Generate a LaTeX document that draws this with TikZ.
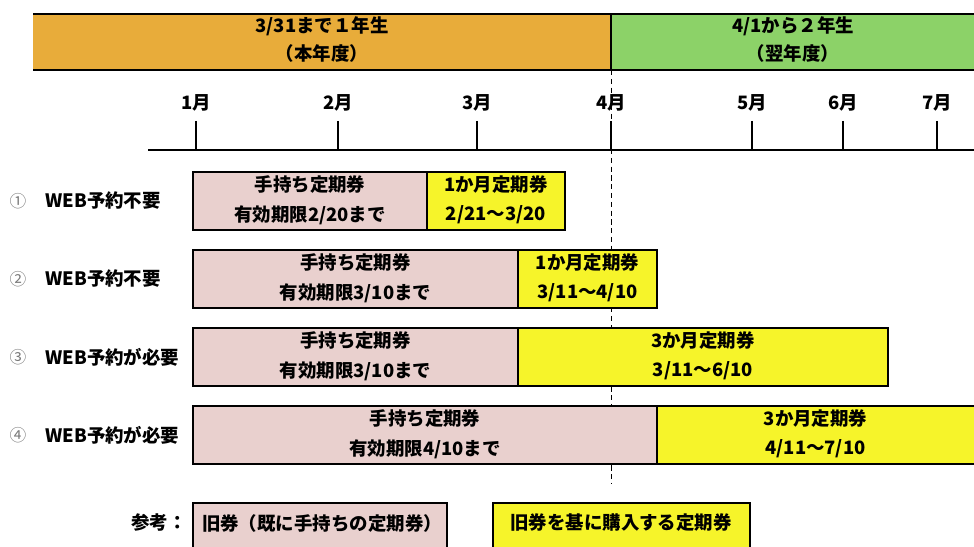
\documentclass[tikz,border=0pt]{standalone}
\usepackage{fontspec}
\setmainfont{Noto Sans CJK JP}
\usetikzlibrary{positioning}
\definecolor{yearorange}{RGB}{232,172,58}
\definecolor{yeargreen}{RGB}{140,210,104}
\definecolor{oldpink}{RGB}{233,208,206}
\definecolor{newyellow}{RGB}{246,244,42}
\definecolor{numgray}{RGB}{120,120,120}
\tikzset{
  lbl/.style={font=\fontsize{10.5}{12}\selectfont\bfseries, inner sep=0pt},
  oldbox/.style={draw=black, line width=1pt, fill=oldpink},
  newbox/.style={draw=black, line width=1pt, fill=newyellow},
}

\begin{document}
\begin{tikzpicture}[x=0.02cm,y=-0.02cm]
  \useasboundingbox (0,0) rectangle (974,547);
  \clip (0,0) rectangle (974,547);
  % school year bands
  \fill[yearorange] (33,14) rectangle (611,70);
  \fill[yeargreen] (611,14) rectangle (980,70);
  \draw[line width=1.3pt] (33,14) -- (980,14);
  \draw[line width=1.3pt] (33,70) -- (980,70);
  \draw[line width=0.8pt] (611,14) -- (611,70);
  \node[lbl] (thisyear) at (322,26) {3/31まで１年生};
  \node[lbl] (thisyearsub) at (322,53) {（本年度）};
  \node[lbl] (nextyear) at (793,26) {4/1から２年生};
  \node[lbl] (nextyearsub) at (793,53) {（翌年度）};
  % April 1st
  \draw[densely dashed] (611,70) -- (611,484);
  % month axis
  \draw[line width=1pt] (148,150) -- (980,150);
  \foreach \m/\x in {1/196,2/338,3/477,4/611,5/752,6/843,7/937}{
    \node[lbl] (m\m) at (\x,103) {\m 月};
    \draw[line width=1pt] (\x,121) -- (\x,150);
  }
  % cases
  \foreach \n/\num/\top/\mid/\right/\web/\until/\len/\range in {%
      1/①/172/427/565/不要/2\slash 20/1/2\slash 21～3\slash 20,
      2/②/250/518/657/不要/3\slash 10/1/3\slash 11～4\slash 10,
      3/③/328/518/888/が必要/3\slash 10/3/3\slash 11～6\slash 10,
      4/④/406/657/980/が必要/4\slash 10/3/4\slash 11～7\slash 10}{
    \node[lbl, font=\fontsize{9.5}{11}\selectfont, text=numgray] (num\n) at (18,\top+29) {\num};
    \node[lbl, anchor=west] (web\n) at (45,\top+29) {WEB予約\web};
    \draw[oldbox] (193,\top) rectangle (\mid,\top+58);
    \draw[newbox] (\mid,\top) rectangle (\right,\top+58);
    \node[lbl] (old\n) at ({(193+\mid)/2},\top+13) {手持ち定期券};
    \node[lbl] (oldend\n) at ({(193+\mid)/2},\top+43) {有効期限\until まで};
    \node[lbl] (new\n) at ({(\mid+min(\right,974))/2},\top+13) {\len か月定期券};
    \node[lbl] (newrange\n) at ({(\mid+min(\right,974))/2},\top+43) {\range};
  }
  % legend
  \node[lbl, anchor=east] (ref) at (187,523) {参考：};
  \draw[oldbox] (193,503) rectangle (447,560);
  \node[lbl] (refold) at (322,523) {旧券（既に手持ちの定期券）};
  \draw[newbox] (493,503) rectangle (750,560);
  \node[lbl] (refnew) at (621,523) {旧券を基に購入する定期券};
\end{tikzpicture}
\end{document}
